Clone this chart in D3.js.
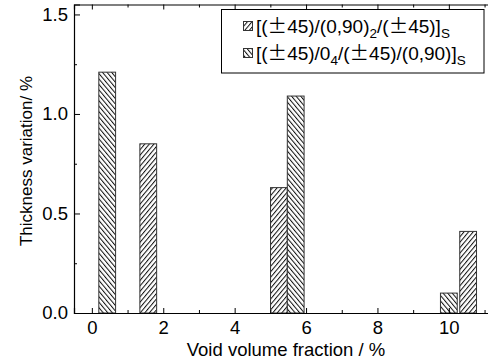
<!DOCTYPE html>
<html>
<head>
<meta charset="utf-8">
<script src="https://cdn.jsdelivr.net/npm/d3@7"></script>
<style>
  html, body { margin: 0; padding: 0; background: #fff; }
  svg { display: block; font-family: Arial, "Liberation Sans", sans-serif; }
</style>
</head>
<body>
<svg id="chart" width="488" height="361"></svg>
<script>
// Layup A: [(±45)/(0,90)2/(±45)]S
const layupAVoid = [1.58, 5.24, 10.54];
const layupAThickness = [0.85, 0.63, 0.41];
// Layup B: [(±45)/04/(±45)/(0,90)]S
const layupBVoid = [0.43, 5.71, 10.0];
const layupBThickness = [1.21, 1.09, 0.10];

const xMajorTicks = [0, 2, 4, 6, 8, 10];
const xMinorTicks = [1, 3, 5, 7, 9, 11];
const yMajorTicks = [0.0, 0.5, 1.0, 1.5];
const yMinorTicks = [0.25, 0.75, 1.25];

const barWidth = 0.47;
const FONT = "Arial, 'Liberation Sans', sans-serif";

const svg = d3.select("#chart");
const plotLeft = 74, plotTop = 4.5, plotBottom = 313, plotRight = 502.4;

const x = d3.scaleLinear().domain([-0.5, 11.5]).range([plotLeft, plotRight]);
const y = d3.scaleLinear().domain([0, 1.55]).range([plotBottom, plotTop]);

// hatch patterns
const defs = svg.append("defs");
function hatch(id, dir) {
  const s = 3.5;
  const p = defs.append("pattern")
    .attr("id", id)
    .attr("patternUnits", "userSpaceOnUse")
    .attr("width", s).attr("height", s)
    .attr("patternTransform", `rotate(${dir})`);
  p.append("rect").attr("width", s).attr("height", s).attr("fill", "#fff");
  p.append("line").attr("x1", 0.5).attr("y1", 0).attr("x2", 0.5).attr("y2", s)
    .attr("stroke", "#111").attr("stroke-width", 1.05);
}
hatch("hatchA", 40);   // "//"
hatch("hatchB", -40);  // "\\"

// bars
function drawBars(xs, vs, fill) {
  svg.append("g").selectAll("rect")
    .data(xs.map((v, i) => ({ x: v, y: vs[i] })))
    .join("rect")
    .attr("x", d => x(d.x - barWidth / 2))
    .attr("width", d => x(d.x + barWidth / 2) - x(d.x - barWidth / 2))
    .attr("y", d => y(d.y))
    .attr("height", d => y(0) - y(d.y))
    .attr("fill", fill)
    .attr("stroke", "#333")
    .attr("stroke-width", 1);
}
drawBars(layupAVoid, layupAThickness, "url(#hatchA)");
drawBars(layupBVoid, layupBThickness, "url(#hatchB)");

// axes
function styleAxis(g) {
  g.select(".domain").attr("stroke", "#000").attr("stroke-width", 1.2);
  g.selectAll(".tick line").attr("stroke", "#000").attr("stroke-width", 1);
  g.selectAll("text").attr("fill", "#000").attr("font-size", 18.5)
    .attr("font-family", FONT);
}

const xAxis = svg.append("g").attr("transform", `translate(0,${plotBottom})`)
  .call(d3.axisBottom(x).tickValues(xMajorTicks).tickSize(-5).tickPadding(8).tickFormat(d3.format("d")));
styleAxis(xAxis);
svg.append("g").attr("transform", `translate(0,${plotBottom})`)
  .call(d3.axisBottom(x).tickValues(xMinorTicks).tickSize(-3).tickFormat(""))
  .call(g => { g.select(".domain").remove(); g.selectAll("line").attr("stroke", "#000"); });

const xTop = svg.append("g").attr("transform", `translate(0,${plotTop})`)
  .call(d3.axisTop(x).tickValues(xMajorTicks).tickSize(-5).tickFormat(""));
styleAxis(xTop);
svg.append("g").attr("transform", `translate(0,${plotTop})`)
  .call(d3.axisTop(x).tickValues(xMinorTicks).tickSize(-3).tickFormat(""))
  .call(g => { g.select(".domain").remove(); g.selectAll("line").attr("stroke", "#000"); });

const yAxis = svg.append("g").attr("transform", `translate(${plotLeft},0)`)
  .call(d3.axisLeft(y).tickValues(yMajorTicks).tickSize(-6).tickPadding(6).tickFormat(d3.format(".1f")));
styleAxis(yAxis);
svg.append("g").attr("transform", `translate(${plotLeft},0)`)
  .call(d3.axisLeft(y).tickValues(yMinorTicks).tickSize(-3).tickFormat(""))
  .call(g => { g.select(".domain").remove(); g.selectAll("line").attr("stroke", "#000"); });

// axis titles
svg.append("text")
  .attr("x", 286).attr("y", 356)
  .attr("text-anchor", "middle")
  .attr("font-size", 18.5)
  .text("Void volume fraction / %");

svg.append("text")
  .attr("transform", "translate(32,161) rotate(-90)")
  .attr("text-anchor", "middle")
  .attr("font-size", 17)
  .text("Thickness variation/ %");

// legend
const lg = svg.append("g");
lg.append("rect")
  .attr("x", 221.5).attr("y", 9.5).attr("width", 262.5).attr("height", 63.5)
  .attr("fill", "#fff").attr("stroke", "#000").attr("stroke-width", 1);

const legendRows = [
  { fill: "url(#hatchA)", y: 33, parts: [["[(", 0], ["±", 0], ["45)/(0,90)", 0], ["2", 1], ["/(", 0], ["±", 0], ["45)]", 0], ["S", 1]] },
  { fill: "url(#hatchB)", y: 60, parts: [["[(", 0], ["±", 0], ["45)/0", 0], ["4", 1], ["/(", 0], ["±", 0], ["45)/(0,90)]", 0], ["S", 1]] }
];
legendRows.forEach(r => {
  lg.append("rect")
    .attr("x", 243.5).attr("y", r.y - 11.5).attr("width", 9).attr("height", 9)
    .attr("fill", r.fill).attr("stroke", "#333").attr("stroke-width", 1);
  const t = lg.append("text").attr("x", 256).attr("y", r.y).attr("font-size", 19);
  let sub = false;
  r.parts.forEach(([s, isSub]) => {
    const ts = t.append("tspan").text(s);
    if (s === "±") ts.attr("font-family", "'Noto Sans CJK SC', sans-serif").attr("font-size", 19.5);
    if (isSub && !sub) { ts.attr("dy", 5).attr("font-size", 13.5); sub = true; }
    else if (!isSub && sub) { ts.attr("dy", -5); sub = false; }
    else if (isSub) ts.attr("font-size", 13.5);
  });
});
</script>
</body>
</html>
